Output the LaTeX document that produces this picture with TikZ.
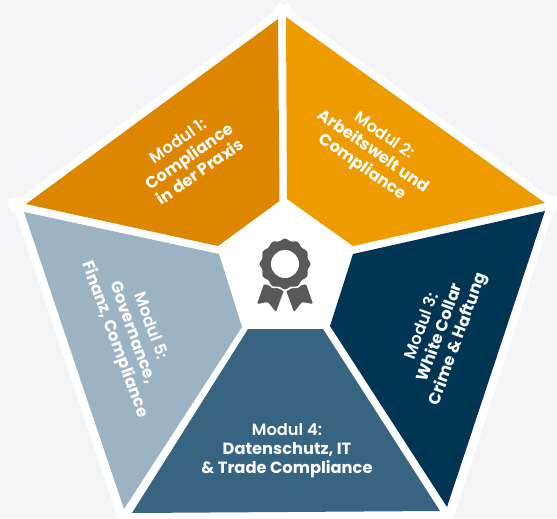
\documentclass[tikz,border=0pt]{standalone}
\usepackage{fontspec}
\setmainfont{Poppins}
\newfontfamily\modhead{Poppins SemiBold}
\definecolor{paper}{HTML}{F3F5F9}
\definecolor{moduleone}{HTML}{DF8600}
\definecolor{moduletwo}{HTML}{EE9B00}
\definecolor{modulethree}{HTML}{003554}
\definecolor{modulefour}{HTML}{366481}
\definecolor{modulefive}{HTML}{9BB3C2}
\definecolor{badge}{HTML}{58595B}

\begin{document}
\begin{tikzpicture}[x=0.75pt,y=-0.75pt]
        \tikzstyle{rim} = [white, line width=6pt, shorten <=-6pt, shorten >=-6pt]
        \tikzstyle{spoke} = [white, line width=6pt, shorten >=-7pt]
        \tikzstyle{modul} = [white, align=center, inner sep=0pt, font=\fontsize{12.2}{14.25}\selectfont\bfseries]
        \tikzstyle{ribbon} = [fill=badge, rounded corners=1pt]

        \clip (0,0) rectangle (557,518);
        \fill[paper] (0,0) rectangle (557,518);

        % outer corners and inner corners
        \coordinate (top) at (283.3,10.1);
        \coordinate (right) at (551.9,203);
        \coordinate (lowright) at (449,518);
        \coordinate (lowleft) at (122,518);
        \coordinate (left) at (17.4,205.3);
        \coordinate (itop) at (283,200);
        \coordinate (iright) at (353,250);
        \coordinate (ileft) at (219,250);

        \fill[white] (top) -- (right) -- (lowright) -- (lowleft) -- (left) -- cycle;
        \draw[rim] (top) -- (right);
        \draw[rim] (right) -- (lowright);
        \draw[rim] (lowleft) -- (left);
        \draw[rim] (left) -- (top);
        \draw[spoke, shorten >=0pt] (itop) -- (top);
        \draw[spoke] (iright) -- (right);
        \draw[spoke] (ileft) -- (left);

        \fill[moduleone] (278,19) -- (279.5,201) -- (218,246) -- (26,204) -- cycle;
        \fill[moduletwo] (286,17) -- (545,203) -- (353,246) -- (287,199) -- cycle;
        \fill[modulethree] (545,211) -- (447,507) -- (330,326) -- (353,254) -- cycle;
        \fill[modulefour] (248,329) -- (323,329) -- (440,511) -- (132,513) -- cycle;
        \fill[modulefive] (24,212) -- (219,254) -- (242,327) -- (124,509) -- cycle;

        \node[modul, rotate=35] (m1) at (189,156) {{\modhead\mdseries Modul 1:}\\Compliance\\in der Praxis};
        \node[modul, rotate=-35] (m2) at (373,152) {{\modhead\mdseries Modul 2:}\\Arbeitswelt und\\Compliance};
        \node[modul, rotate=70] (m3) at (441,333) {{\modhead\mdseries Modul 3:}\\White Collar\\Crime \& Haftung};
        \node[modul] (m4) at (287,451) {{\modhead\mdseries Modul 4:}\\Datenschutz, IT\\\& Trade Compliance};
        \node[modul, rotate=-70] (m5) at (132,333) {{\modhead\mdseries Modul 5:}\\Governance,\\Finanz, Compliance};

        % badge in the middle
        \fill[ribbon] (264,284) -- (257,304) -- (268,302) -- (276,312) -- (284,290) -- cycle;
        \fill[ribbon] (306,284) -- (313,304) -- (302,302) -- (294,312) -- (286,290) -- cycle;
        \filldraw[fill=badge, draw=white, line width=1.2pt, smooth, samples=145, domain=0:360]
                plot ({285+(25.3+1*cos(12*\x))*cos(\x)},{264+(25.3+1*cos(12*\x))*sin(\x)});
        \fill[white] (285,264) circle (14);
\end{tikzpicture}
\end{document}
